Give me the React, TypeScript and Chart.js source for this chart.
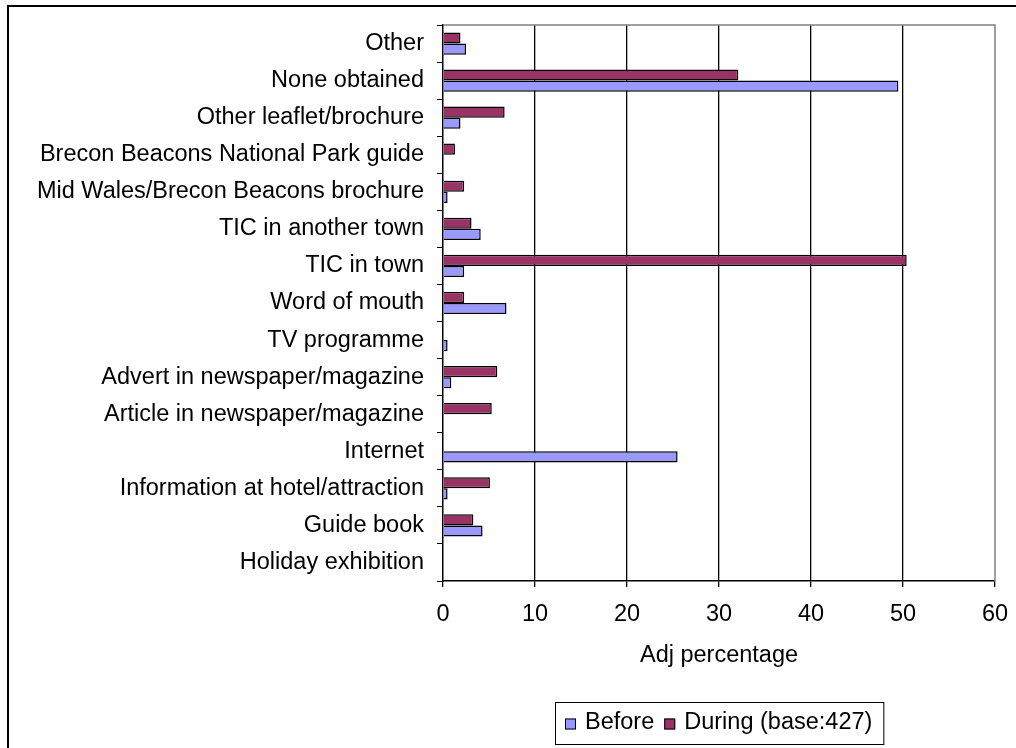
import React, { useEffect, useRef } from "react";
import { Chart, registerables } from "chart.js";

Chart.register(...registerables);

const categories = [
  "Other",
  "None obtained",
  "Other leaflet/brochure",
  "Brecon Beacons National Park guide",
  "Mid Wales/Brecon Beacons brochure",
  "TIC in another town",
  "TIC in town",
  "Word of mouth",
  "TV programme",
  "Advert in newspaper/magazine",
  "Article in newspaper/magazine",
  "Internet",
  "Information at hotel/attraction",
  "Guide book",
  "Holiday exhibition",
];
const duringValues = [1.9, 32.1, 6.7, 1.3, 2.3, 3.1, 50.4, 2.3, 0, 5.9, 5.3, 0, 5.1, 3.3, 0];
const beforeValues = [2.5, 49.5, 1.9, 0, 0.5, 4.1, 2.3, 6.9, 0.5, 0.9, 0, 25.5, 0.5, 4.3, 0];
const xTicks = [0, 10, 20, 30, 40, 50, 60];
const xTitle = "Adj percentage";
const beforeLabel = "Before";
const duringLabel = "During (base:427)";

const FONT = "Arial, 'Liberation Sans', sans-serif";
const FS = 23.5;

const framePlugin = {
  id: "frame",
  beforeDraw(chart: any) {
    const ctx = chart.ctx;
    ctx.save();
    ctx.fillStyle = "#ffffff";
    ctx.fillRect(0, 0, chart.width, chart.height);
    ctx.strokeStyle = "#000000";
    ctx.lineWidth = 2;
    ctx.strokeRect(8, 6, 2000, 2000);
    ctx.restore();
  },
  beforeDatasetsDraw(chart: any) {
    const { ctx, chartArea } = chart;
    ctx.save();
    ctx.strokeStyle = "#808080";
    ctx.lineWidth = 1.5;
    ctx.beginPath();
    ctx.moveTo(chartArea.left, chartArea.top);
    ctx.lineTo(chartArea.right, chartArea.top);
    ctx.lineTo(chartArea.right, chartArea.bottom);
    ctx.stroke();
    ctx.restore();
  },
  afterDraw(chart: any) {
    const { ctx, chartArea } = chart;
    const ds = chart.data.datasets.slice().reverse();
    ctx.save();
    ctx.font = `${FS}px ${FONT}`;
    ctx.textBaseline = "middle";
    ctx.textAlign = "left";
    const pad = 10, sq = 11, gap = 9, itemGap = 10, padR = 11;
    const widths = ds.map((d: any) => ctx.measureText(d.label).width);
    const total = pad + widths.reduce((a: number, w: number) => a + sq + gap + w, 0) + itemGap * (ds.length - 1) + padR;
    const cx = (chartArea.left + chartArea.right) / 2;
    const left = Math.round(cx - total / 2);
    const top = 702, bottom = 744;
    const cy = (top + bottom) / 2;
    ctx.strokeStyle = "#000";
    ctx.lineWidth = 1;
    ctx.strokeRect(left + 0.5, top + 0.5, total, bottom - top);
    let x = left + pad;
    ds.forEach((d: any, i: number) => {
      ctx.fillStyle = d.backgroundColor;
      ctx.fillRect(x, cy - sq / 2 + 1, sq, sq);
      ctx.strokeRect(x + 0.5, cy - sq / 2 + 1.5, sq - 1, sq - 1);
      x += sq + gap;
      ctx.fillStyle = "#000";
      ctx.fillText(d.label, x, cy);
      x += widths[i] + itemGap;
    });
    ctx.restore();
  },
};

export default function App() {
  const ref = useRef<HTMLCanvasElement>(null);
  useEffect(() => {
    if (!ref.current) return;
    const chart = new Chart(ref.current, {
      type: "bar",
      data: {
        labels: categories,
        datasets: [
          {
            label: duringLabel,
            data: duringValues,
            backgroundColor: "#993366",
            borderColor: "#000000",
            borderWidth: 1.5,
            categoryPercentage: 0.6,
            barPercentage: 1,
          },
          {
            label: beforeLabel,
            data: beforeValues,
            backgroundColor: "#9999FF",
            borderColor: "#000000",
            borderWidth: 1.5,
            categoryPercentage: 0.6,
            barPercentage: 1,
          },
        ],
      },
      options: {
        indexAxis: "y",
        animation: false,
        responsive: false,
        layout: { padding: { left: 0, top: 25, right: 21, bottom: 78 } },
        plugins: { legend: { display: false }, tooltip: { enabled: false } },
        scales: {
          x: {
            min: 0,
            max: 60,
            afterFit: (s: any) => { s.height = 89; s.paddingLeft = 0; s.paddingRight = 0; },
            afterBuildTicks: (s: any) => { s.ticks = xTicks.map((v) => ({ value: v })); },
            ticks: { color: "#000", font: { family: FONT, size: FS }, padding: 13, maxRotation: 0 },
            grid: {
              color: (c: any) => (c.tick && (c.tick.value === 0 || c.tick.value === 60) ? "rgba(0,0,0,0)" : "#000"),
              lineWidth: 1.3,
              tickColor: "#000",
              tickLength: 6,
              drawTicks: true,
            },
            border: { color: "#000", width: 1.5 },
            title: { display: true, text: xTitle, color: "#000", font: { family: FONT, size: FS }, padding: { top: 4, bottom: 0 } },
          },
          y: {
            afterFit: (s: any) => { s.width = 443; s.paddingTop = 0; s.paddingBottom = 0; },
            ticks: { color: "#000", font: { family: FONT, size: FS }, padding: 13, autoSkip: false },
            grid: { drawOnChartArea: false, drawTicks: true, tickLength: 6, tickColor: "#000", offset: true },
            border: { color: "#000", width: 1.5 },
          },
        },
      } as any,
      plugins: [framePlugin],
    });
    return () => chart.destroy();
  }, []);
  return (
    <div style={{ position: "absolute", left: 0, top: 0, width: 1016, height: 748, overflow: "hidden" }}>
      <canvas ref={ref} width={1016} height={748} style={{ display: "block" }} />
    </div>
  );
}
